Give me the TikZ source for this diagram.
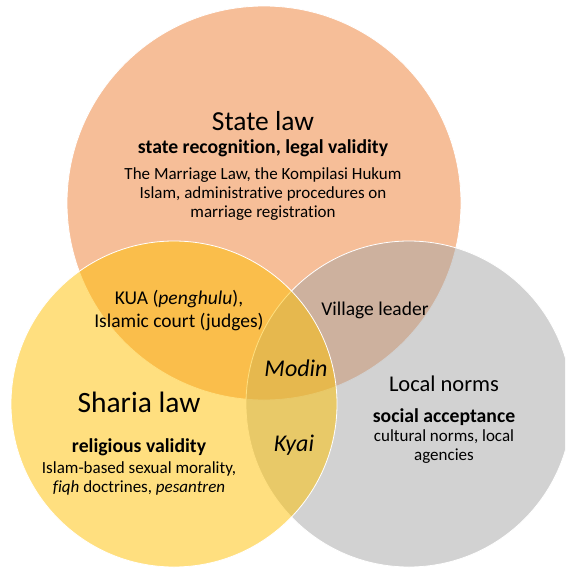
\documentclass[tikz,border=0pt]{standalone}
\usepackage{fontspec}
\setmainfont{Carlito}[Ligatures=NoCommon]
\usetikzlibrary{positioning}

\definecolor{stateorange}{HTML}{ED7D31}
\definecolor{shariagold}{HTML}{FFC000}
\definecolor{localgray}{HTML}{A5A5A5}

\tikzset{
  venn/.style={draw=white, line width=0.8pt, fill opacity=0.5},
  bigtitle/.style={inner sep=0pt, font=\fontsize{29.5}{31}\selectfont},
  midtitle/.style={inner sep=0pt, font=\fontsize{22.5}{25}\selectfont},
  keyline/.style={inner sep=0pt, font=\fontsize{19.7}{21}\selectfont\bfseries},
  bodytext/.style={inner sep=0pt, align=center, font=\fontsize{17}{19}\selectfont},
  overlap/.style={inner sep=0pt, align=center, font=\fontsize{19.5}{23}\selectfont},
  actor/.style={inner sep=0pt, font=\fontsize{24}{26}\selectfont\itshape}
}

\begin{document}
\begin{tikzpicture}[x=1pt, y=-1pt]
  \useasboundingbox (0,0) rectangle (565,570);
  \clip (0,0) rectangle (565,570);

  % the three circles
  \filldraw[venn, fill=stateorange] (264,203) circle (197pt);
  \filldraw[venn, fill=localgray]   (409,404) circle (163pt);
  \filldraw[venn, fill=shariagold]  (174,404) circle (163pt);

  % state law
  \node[bigtitle, font=\fontsize{27.5}{30}\selectfont] (statetitle) at (263,121) {State law};
  \node[keyline]  (statekey)  at (263,148) {state recognition, legal validity};
  \node[bodytext] (statebody) at (263,194) {The Marriage Law, the Kompilasi Hukum\\Islam, administrative procedures on\\marriage registration};

  % sharia law
  \node[bigtitle] (shariatitle) at (139,402) {Sharia law};
  \node[keyline]  (shariakey)   at (139,447) {religious validity};
  \node[bodytext] (shariabody)  at (139,478) {Islam-based sexual morality,\\\textit{fiqh} doctrines, \textit{pesantren}};

  % local norms
  \node[midtitle] (localtitle) at (444,384) {Local norms};
  \node[keyline]  (localkey)   at (444,417) {social acceptance};
  \node[bodytext] (localbody)  at (444,447) {cultural norms, local\\agencies};

  % overlaps
  \node[overlap] (kua)     at (179,311) {KUA (\textit{penghulu}),\\Islamic court (judges)};
  \node[overlap] (village) at (375,310) {Village leader};
  \node[actor]   (modin)   at (296,368) {Modin};
  \node[actor]   (kyai)    at (294,445) {Kyai};
\end{tikzpicture}
\end{document}
